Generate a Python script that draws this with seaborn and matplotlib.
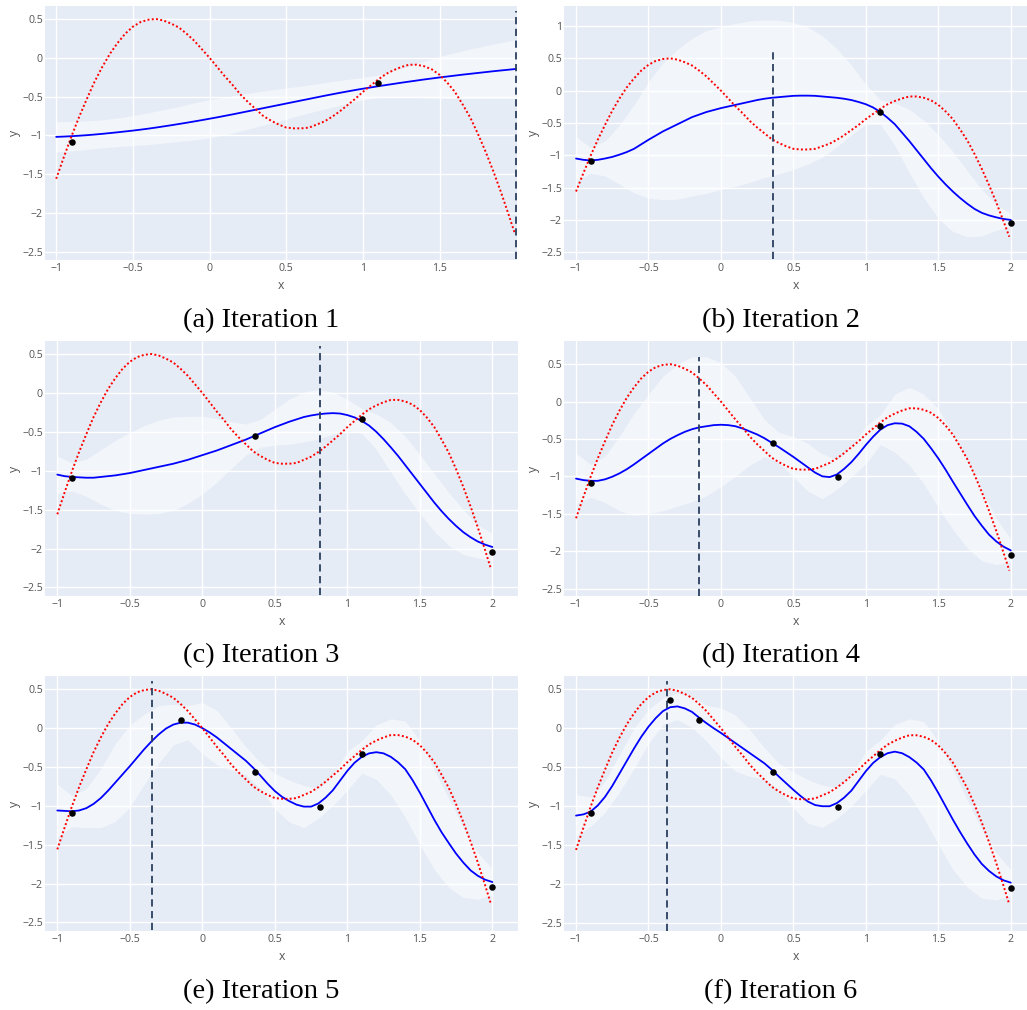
import matplotlib
matplotlib.use("Agg")
import matplotlib.pyplot as plt
import seaborn as sns

# ---------------------------------------------------------------- data
# objective function, sampled on a fine grid
X_TRUE = [-1.0, -0.95, -0.9, -0.85, -0.8, -0.75, -0.7, -0.65, -0.6, -0.55,
          -0.5, -0.45, -0.4, -0.35, -0.3, -0.25, -0.2, -0.15, -0.1, -0.05,
          0.0, 0.05, 0.1, 0.15, 0.2, 0.25, 0.3, 0.35, 0.4, 0.45,
          0.5, 0.55, 0.6, 0.65, 0.7, 0.75, 0.8, 0.85, 0.9, 0.95,
          1.0, 1.05, 1.1, 1.15, 1.2, 1.25, 1.3, 1.35, 1.4, 1.45,
          1.5, 1.55, 1.6, 1.65, 1.7, 1.75, 1.8, 1.85, 1.9, 1.95, 1.99]
Y_TRUE = [-1.56, -1.28, -1.01, -0.76, -0.53, -0.31, -0.12, 0.05, 0.19, 0.31,
          0.40, 0.46, 0.49, 0.50, 0.48, 0.44, 0.39, 0.31, 0.22, 0.11,
          0.00, -0.12, -0.24, -0.35, -0.47, -0.57, -0.66, -0.75, -0.81, -0.86,
          -0.90, -0.91, -0.91, -0.90, -0.86, -0.82, -0.76, -0.69, -0.61, -0.53,
          -0.44, -0.36, -0.28, -0.21, -0.16, -0.12, -0.09, -0.09, -0.11, -0.15,
          -0.22, -0.32, -0.44, -0.60, -0.77, -0.98, -1.21, -1.46, -1.73, -2.02, -2.26]

# noisy samples, in the order they were acquired
OBS_X = [-0.9, 1.1, 2.0, 0.36, 0.81, -0.15, -0.35]
OBS_Y = [-1.09, -0.33, -2.05, -0.56, -1.01, 0.10, 0.36]
N_OBS = [2, 3, 4, 5, 6, 7]
# next point proposed by the acquisition function
NEXT_X = [2.0, 0.36, 0.81, -0.15, -0.35, -0.37]

# GP posterior mean, evaluated every 0.05
X_MEAN = [-1.0, -0.95, -0.9, -0.85, -0.8, -0.75, -0.7, -0.65, -0.6, -0.55,
          -0.5, -0.45, -0.4, -0.35, -0.3, -0.25, -0.2, -0.15, -0.1, -0.05,
          0.0, 0.05, 0.1, 0.15, 0.2, 0.25, 0.3, 0.35, 0.4, 0.45,
          0.5, 0.55, 0.6, 0.65, 0.7, 0.75, 0.8, 0.85, 0.9, 0.95,
          1.0, 1.05, 1.1, 1.15, 1.2, 1.25, 1.3, 1.35, 1.4, 1.45,
          1.5, 1.55, 1.6, 1.65, 1.7, 1.75, 1.8, 1.85, 1.9, 1.95, 2.0]

MEAN_1 = [-1.02, -1.016, -1.011, -1.005, -0.998, -0.990, -0.981, -0.971, -0.961, -0.950,
          -0.939, -0.927, -0.914, -0.900, -0.885, -0.870, -0.854, -0.838, -0.821, -0.804,
          -0.786, -0.768, -0.749, -0.730, -0.710, -0.690, -0.670, -0.650, -0.630, -0.610,
          -0.590, -0.570, -0.550, -0.530, -0.510, -0.490, -0.471, -0.452, -0.434, -0.416,
          -0.399, -0.383, -0.367, -0.352, -0.337, -0.322, -0.308, -0.294, -0.280, -0.267,
          -0.254, -0.242, -0.230, -0.218, -0.207, -0.196, -0.185, -0.174, -0.164, -0.154,
          -0.144]
MEAN_2 = [-1.05, -1.07, -1.08, -1.07, -1.05, -1.025, -0.99, -0.95, -0.90, -0.83,
          -0.76, -0.695, -0.63, -0.575, -0.52, -0.465, -0.41, -0.37, -0.33, -0.30,
          -0.27, -0.245, -0.22, -0.195, -0.17, -0.145, -0.125, -0.11, -0.10, -0.09,
          -0.08, -0.077, -0.077, -0.08, -0.09, -0.10, -0.11, -0.125, -0.145, -0.175,
          -0.21, -0.26, -0.33, -0.42, -0.52, -0.65, -0.78, -0.92, -1.06, -1.20,
          -1.33, -1.45, -1.56, -1.66, -1.75, -1.83, -1.89, -1.93, -1.96, -1.985,
          -2.0]
MEAN_3 = [-1.05, -1.07, -1.08, -1.085, -1.09, -1.09, -1.08, -1.07, -1.06, -1.045,
          -1.03, -1.01, -0.99, -0.97, -0.95, -0.93, -0.91, -0.885, -0.86, -0.83,
          -0.80, -0.77, -0.74, -0.705, -0.67, -0.635, -0.60, -0.56, -0.52, -0.48,
          -0.44, -0.405, -0.37, -0.34, -0.31, -0.29, -0.275, -0.265, -0.26, -0.265,
          -0.285, -0.315, -0.36, -0.42, -0.50, -0.595, -0.70, -0.81, -0.93, -1.05,
          -1.17, -1.29, -1.41, -1.52, -1.62, -1.71, -1.79, -1.855, -1.91, -1.95,
          -1.98]
MEAN_4 = [-1.03, -1.05, -1.06, -1.06, -1.04, -1.005, -0.96, -0.905, -0.84, -0.77,
          -0.70, -0.63, -0.56, -0.50, -0.45, -0.405, -0.37, -0.345, -0.33, -0.315,
          -0.31, -0.315, -0.33, -0.36, -0.40, -0.44, -0.49, -0.55, -0.61, -0.675,
          -0.74, -0.81, -0.88, -0.95, -1.0, -1.01, -0.975, -0.90, -0.81, -0.70,
          -0.58, -0.47, -0.375, -0.315, -0.29, -0.295, -0.33, -0.405, -0.50, -0.625,
          -0.76, -0.91, -1.07, -1.225, -1.38, -1.53, -1.66, -1.78, -1.87, -1.94,
          -1.99]
MEAN_5 = [-1.06, -1.065, -1.07, -1.06, -1.03, -0.975, -0.90, -0.805, -0.70, -0.595,
          -0.49, -0.38, -0.27, -0.17, -0.08, -0.005, 0.045, 0.07, 0.07, 0.045,
          0.0, -0.055, -0.12, -0.195, -0.27, -0.345, -0.42, -0.51, -0.61, -0.715,
          -0.81, -0.885, -0.94, -0.985, -1.01, -1.01, -0.97, -0.895, -0.80, -0.675,
          -0.55, -0.445, -0.37, -0.325, -0.31, -0.325, -0.37, -0.44, -0.53, -0.67,
          -0.83, -1.005, -1.18, -1.34, -1.48, -1.615, -1.73, -1.83, -1.90, -1.95,
          -1.98]
MEAN_6 = [-1.12, -1.105, -1.07, -0.99, -0.88, -0.74, -0.58, -0.42, -0.26, -0.11,
          0.02, 0.13, 0.22, 0.27, 0.28, 0.255, 0.21, 0.135, 0.065, 0.0,
          -0.06, -0.125, -0.19, -0.255, -0.32, -0.385, -0.45, -0.53, -0.62, -0.705,
          -0.79, -0.87, -0.94, -0.985, -1.00, -1.00, -0.96, -0.89, -0.80, -0.675,
          -0.55, -0.445, -0.37, -0.32, -0.30, -0.32, -0.37, -0.44, -0.53, -0.67,
          -0.83, -1.0, -1.17, -1.33, -1.48, -1.62, -1.74, -1.83, -1.90, -1.95,
          -1.98]

# half-width of the confidence band, evaluated every 0.1
X_BAND = [-1.0, -0.9, -0.8, -0.7, -0.6, -0.5, -0.4, -0.3, -0.2, -0.1,
          0.0, 0.1, 0.2, 0.3, 0.4, 0.5, 0.6, 0.7, 0.8, 0.9,
          1.0, 1.1, 1.2, 1.3, 1.4, 1.5, 1.6, 1.7, 1.8, 1.9, 2.0]
HALF_1 = [0.195, 0.19, 0.185, 0.18, 0.185, 0.195, 0.205, 0.215, 0.225, 0.24,
          0.245, 0.245, 0.235, 0.225, 0.215, 0.2, 0.185, 0.175, 0.165, 0.155,
          0.145, 0.145, 0.17, 0.2, 0.235, 0.27, 0.295, 0.32, 0.34, 0.36, 0.38]
HALF_2 = [0.34, 0.2, 0.27, 0.46, 0.68, 0.9, 1.06, 1.16, 1.22, 1.26,
          1.26, 1.26, 1.25, 1.22, 1.19, 1.14, 1.06, 0.94, 0.76, 0.54,
          0.31, 0.19, 0.33, 0.49, 0.6, 0.65, 0.62, 0.51, 0.36, 0.2, 0.1]
HALF_3 = [0.24, 0.18, 0.24, 0.35, 0.45, 0.52, 0.57, 0.6, 0.6, 0.56,
          0.5, 0.41, 0.3, 0.2, 0.18, 0.23, 0.29, 0.32, 0.32, 0.27,
          0.2, 0.16, 0.23, 0.32, 0.37, 0.38, 0.37, 0.34, 0.29, 0.21, 0.18]
HALF_4 = [0.34, 0.22, 0.31, 0.5, 0.68, 0.8, 0.9, 0.95, 0.97, 0.93,
          0.83, 0.67, 0.45, 0.25, 0.2, 0.27, 0.32, 0.3, 0.2, 0.2,
          0.25, 0.2, 0.39, 0.52, 0.6, 0.66, 0.64, 0.58, 0.47, 0.31, 0.15]
HALF_5 = [0.34, 0.2, 0.25, 0.38, 0.5, 0.53, 0.45, 0.37, 0.26, 0.22,
          0.33, 0.35, 0.27, 0.18, 0.17, 0.23, 0.27, 0.27, 0.19, 0.2,
          0.25, 0.21, 0.35, 0.49, 0.62, 0.67, 0.64, 0.57, 0.45, 0.3, 0.17]
HALF_6 = [0.27, 0.19, 0.2, 0.24, 0.26, 0.22, 0.17, 0.17, 0.2, 0.23,
          0.32, 0.36, 0.3, 0.2, 0.17, 0.23, 0.28, 0.27, 0.2, 0.2,
          0.25, 0.22, 0.35, 0.49, 0.62, 0.66, 0.64, 0.56, 0.44, 0.3, 0.17]

MEANS = [MEAN_1, MEAN_2, MEAN_3, MEAN_4, MEAN_5, MEAN_6]
HALVES = [HALF_1, HALF_2, HALF_3, HALF_4, HALF_5, HALF_6]
CAPTIONS = ["(a) Iteration 1", "(b) Iteration 2", "(c) Iteration 3",
            "(d) Iteration 4", "(e) Iteration 5", "(f) Iteration 6"]
X_TICKS = [-1, -0.5, 0, 0.5, 1, 1.5, 2]
NEXT_LINE_SPAN = (-2.6, 0.6)

# ---------------------------------------------------------------- layout
W, H = 1027, 1010
# axes boxes in pixels: left, top, right, bottom
BOXES = [(45, 6, 517, 260), (564, 6, 1027, 260),
         (45, 341, 518, 596), (564, 341, 1027, 596),
         (45, 676, 518, 931), (564, 676, 1027, 931)]
XLIMS = [(-1.073, 2.005), (-1.083, 2.112), (-1.085, 2.177),
         (-1.083, 2.112), (-1.085, 2.177), (-1.083, 2.112)]
YLIMS = [(-2.607, 0.667), (-2.62, 1.31), (-2.61, 0.667),
         (-2.60, 0.81), (-2.61, 0.67), (-2.60, 0.67)]
CAPTION_POS = [(261, 321), (781, 321), (261, 656), (781, 656), (261, 992), (781, 992)]

BG = "#E5ECF6"
TICK_COLOR = "#555555"
LINE_DARK = "#2a3f5f"

sns.set_theme(style="darkgrid", rc={
    "axes.facecolor": BG,
    "grid.color": "white",
    "grid.linewidth": 1.0,
    "axes.edgecolor": BG,
    "xtick.color": TICK_COLOR,
    "ytick.color": TICK_COLOR,
})
plt.rcParams["font.family"] = ["Open Sans", "DejaVu Sans"]


def fmt(v):
    return f"{v:g}".replace("-", "\u2212")


fig = plt.figure(figsize=(W / 100, H / 100), dpi=100)

for i in range(6):
    l, t, r, b = BOXES[i]
    ax = fig.add_axes([l / W, 1 - b / H, (r - l) / W, (b - t) / H])
    mean = MEANS[i]
    half = HALVES[i]
    mean_on_band = mean[::2]
    lower = [m - h for m, h in zip(mean_on_band, half)]
    upper = [m + h for m, h in zip(mean_on_band, half)]

    ax.fill_between(X_BAND, lower, upper, color="white", alpha=0.5,
                    linewidth=0, zorder=1)
    sns.lineplot(x=X_MEAN, y=mean, ax=ax, color="blue", linewidth=1.3,
                 zorder=3)
    sns.lineplot(x=X_TRUE, y=Y_TRUE, ax=ax, color="red", linewidth=1.4,
                 linestyle=(0, (1, 1.2)), zorder=4)
    n = N_OBS[i]
    sns.scatterplot(x=OBS_X[:n], y=OBS_Y[:n], ax=ax, color="black", s=22,
                    linewidth=0, zorder=6)
    ax.vlines(NEXT_X[i], NEXT_LINE_SPAN[0], NEXT_LINE_SPAN[1], colors=LINE_DARK,
              linestyles=(0, (4, 2.5)), linewidth=1.3, zorder=5)

    xl = XLIMS[i]
    yl = YLIMS[i]
    ax.set_xlim(*xl)
    ax.set_ylim(*yl)
    xt = [v for v in X_TICKS if xl[0] <= v < xl[1] - 0.01]
    yt = [v / 2 for v in range(-5, 3) if yl[0] <= v / 2 <= yl[1]]
    ax.set_xticks(xt)
    ax.set_xticklabels([fmt(v) for v in xt])
    ax.set_yticks(yt)
    ax.set_yticklabels([fmt(v) for v in yt])
    ax.tick_params(axis="both", length=0, labelsize=7.6, labelcolor=TICK_COLOR)
    ax.tick_params(axis="x", pad=2.5)
    ax.tick_params(axis="y", pad=1.5)
    ax.set_xlabel("x", fontsize=8.8, color=TICK_COLOR, labelpad=3)
    ax.set_ylabel("y", fontsize=8.8, color=TICK_COLOR, labelpad=1)
    for s in ax.spines.values():
        s.set_visible(False)

    cx, cy = CAPTION_POS[i]
    fig.text(cx / W, 1 - cy / H, CAPTIONS[i], ha="center", va="center",
             fontsize=20.5, family=["Liberation Serif", "DejaVu Serif"],
             color="black")

fig.savefig("out.png", dpi=100, facecolor="white")
